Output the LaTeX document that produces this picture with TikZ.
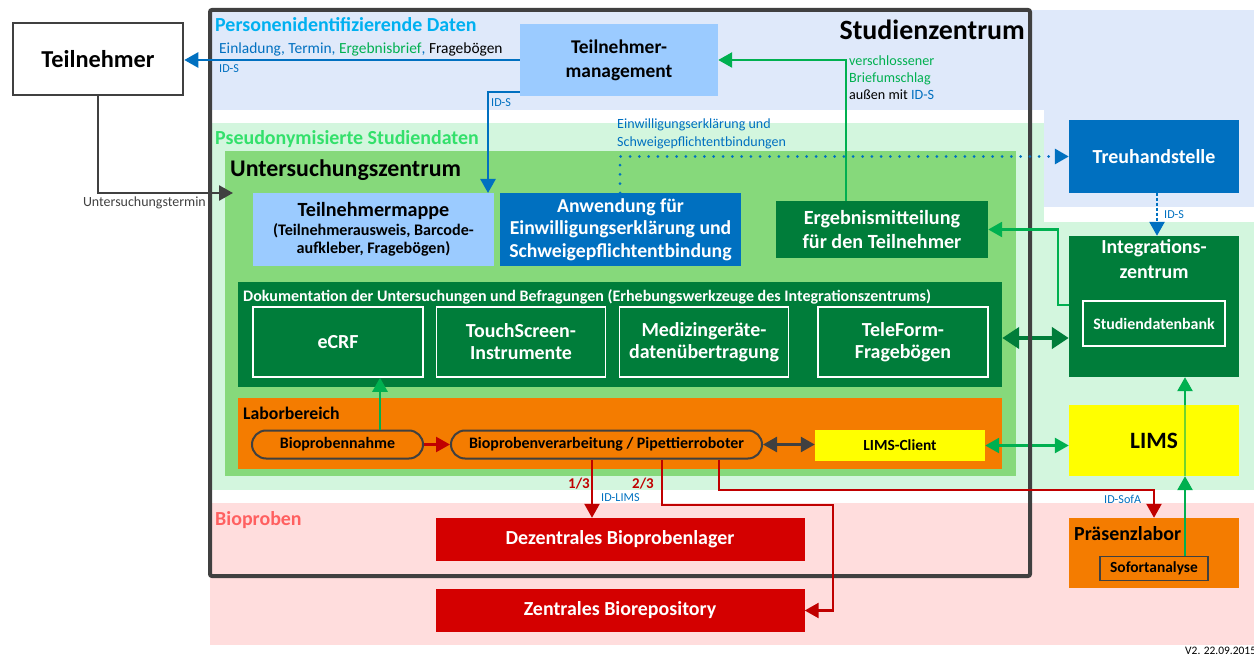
\documentclass[tikz,border=0pt]{standalone}
\usepackage{fontspec}
\setmainfont{Carlito}
\usetikzlibrary{arrows.meta,calc}
\definecolor{bandblue}{HTML}{DFE9FA}
\definecolor{bandgreen}{HTML}{D3F6DE}
\definecolor{bandpink}{HTML}{FFDDDD}
\definecolor{uzgreen}{HTML}{86D97B}
\definecolor{dkgreen}{HTML}{007D3A}
\definecolor{lngreen}{HTML}{00B050}
\definecolor{boxblue}{HTML}{0070C0}
\definecolor{ltblue}{HTML}{9BCBFF}
\definecolor{orng}{HTML}{F47C00}
\definecolor{boxred}{HTML}{D40000}
\definecolor{lnred}{HTML}{C00000}
\definecolor{framegray}{HTML}{404040}
\definecolor{cyanlbl}{HTML}{00B0F0}
\definecolor{greenlbl}{HTML}{33E06B}
\definecolor{pinklbl}{HTML}{FF6060}
\definecolor{limsyellow}{HTML}{FFFF00}
\newcommand\setfs[2]{\fontsize{#1}{#2}\selectfont}
\begin{document}
\begin{tikzpicture}[x=1bp,y=-1bp,
  box/.style={rectangle, inner sep=0pt, align=center, font=\bfseries\setfs{20}{22}},
  wbox/.style={box, text=white},
  toolbox/.style={wbox, fill=dkgreen, draw=white, line width=1.5bp, minimum width=169bp, minimum height=70bp},
  pill/.style={box, fill=orng, draw=framegray, line width=2bp, rounded corners=14bp, minimum height=28bp, font=\bfseries\setfs{16}{18}},
  redbox/.style={wbox, fill=boxred, minimum width=369bp, minimum height=43bp},
  lbl/.style={inner sep=0pt, anchor=west, font=\setfs{14.2}{17}, align=left},
  idlbl/.style={inner sep=0pt, anchor=west, font=\setfs{12.2}{14}, text=boxblue},
  sect/.style={inner sep=0pt, anchor=west, font=\bfseries\setfs{20}{22}},
  tipA/.style={-{Triangle[length=14bp,width=15bp]}},
  tipB/.style={{Triangle[length=14bp,width=15bp]}-{Triangle[length=14bp,width=15bp]}},
  blueln/.style={draw=boxblue, line width=2.6bp},
  greenln/.style={draw=lngreen, line width=2.6bp},
  redln/.style={draw=lnred, line width=2.4bp},
  grayln/.style={draw=framegray, line width=2.6bp}]
\useasboundingbox (0,0) rectangle (1254,657);

% background bands
\fill[bandblue] (212,10) rectangle (1254,110);
\fill[bandblue] (1044,110) rectangle (1254,207);
\fill[bandgreen] (212,123) rectangle (1044,490);
\fill[bandgreen] (1030,222) rectangle (1254,490);
\fill[bandpink] (210,503) rectangle (1254,645);

% band titles
\node[sect, text=cyanlbl] (tpers) at (215,25) {Personenidentifizierende Daten};
\node[sect, text=greenlbl] (tpseu) at (215,139) {Pseudonymisierte Studiendaten};
\node[sect, text=pinklbl] (tbio) at (215,520) {Bioproben};

% participant
\node[box, fill=white, draw=framegray, line width=2.5bp, minimum width=170bp, minimum height=72bp, font=\bfseries\setfs{24.4}{28}] (teil) at (98,59) {Teilnehmer};

% study centre, top band
\node[box, fill=ltblue, minimum width=198bp, minimum height=72bp, font=\bfseries\setfs{19.5}{24}] (tm) at (619,60) {Teilnehmer-\\management};
\node[wbox, fill=boxblue, minimum width=170bp, minimum height=72bp] (treu) at (1154,156.5) {Treuhandstelle};

% examination centre
\node[fill=uzgreen, inner sep=0pt, minimum width=791bp, minimum height=325bp] (uz) at (620.5,313.5) {};
\node[sect, text=black, font=\bfseries\setfs{24}{26}] (tuz) at (230,170) {Untersuchungszentrum};

\node[box, fill=ltblue, minimum width=241bp, minimum height=72bp, font=\bfseries\setfs{16.2}{18.5}] (mappe) at (373.5,229.5)
  {\setfs{20.2}{22}Teilnehmermappe\\(Teilnehmerausweis, Barcode-\\aufkleber, Fragebögen)};
\node[wbox, fill=boxblue, minimum width=241bp, minimum height=72bp, font=\bfseries\setfs{19.8}{22.5}] (anw) at (620.5,229.5)
  {Anwendung für\\Einwilligungserklärung und\\Schweigepflichtentbindung};
\node[wbox, fill=dkgreen, minimum width=212bp, minimum height=57bp, font=\bfseries\setfs{20.2}{24}] (erg) at (882,229.5)
  {Ergebnismitteilung\\für den Teilnehmer};

% documentation tools
\node[fill=dkgreen, inner sep=0pt, minimum width=764bp, minimum height=105bp] (doku) at (620,334.5) {};
\node[inner sep=0pt, anchor=west, text=white, font=\bfseries\setfs{16.1}{18}] (tdoku) at (243,297)
  {Dokumentation der Untersuchungen und Befragungen (Erhebungswerkzeuge des Integrationszentrums)};
\node[toolbox, minimum width=170bp] (ecrf) at (338,342) {eCRF};
\node[toolbox] (touch) at (521,342) {TouchScreen-\\Instrumente};
\node[toolbox] (med) at (704,342) {Medizingeräte-\\datenübertragung};
\node[toolbox, minimum width=170bp] (tele) at (903,342) {TeleForm-\\Fragebögen};

% laboratory
\node[fill=orng, inner sep=0pt, minimum width=764bp, minimum height=71bp] (labor) at (620,433.5) {};
\node[inner sep=0pt, anchor=west, font=\bfseries\setfs{17.8}{20}] (tlabor) at (243,413) {Laborbereich};
\node[pill, minimum width=171bp] (bpn) at (337.5,444.5) {Bioprobennahme};
\node[pill, minimum width=311bp] (bpv) at (606.5,444.5) {Bioprobenverarbeitung / Pipettierroboter};
\node[box, fill=limsyellow, minimum width=170bp, minimum height=31bp, font=\bfseries\setfs{15.5}{17}] (lc) at (900,445.5) {LIMS-Client};

% integration centre
\node[fill=dkgreen, inner sep=0pt, minimum width=170bp, minimum height=141bp] (integ) at (1154,306.5) {};
\node[wbox, anchor=north, font=\bfseries\setfs{20}{25}] (tinteg) at (1154,239) {Integrations-\\zentrum};
\node[wbox, draw=white, line width=1.5bp, minimum width=142bp, minimum height=45bp, font=\bfseries\setfs{16}{18}] (sdb) at (1154,323.5) {Studiendatenbank};
\node[box, fill=limsyellow, minimum width=170bp, minimum height=71bp, font=\bfseries\setfs{23.5}{26}] (lims) at (1154,440.5) {LIMS};

% biosamples
\node[redbox] (dez) at (620,539.5) {Dezentrales Bioprobenlager};
\node[redbox] (zen) at (620,610.5) {Zentrales Biorepository};
\node[fill=orng, inner sep=0pt, minimum width=170bp, minimum height=70bp] (praes) at (1154,553) {};
\node[inner sep=0pt, anchor=west, font=\bfseries\setfs{20}{22}] (tpraes) at (1074,534) {Präsenzlabor};
\node[box, fill=orng, draw=framegray, line width=1.8bp, minimum width=108bp, minimum height=24bp, font=\bfseries\setfs{15.5}{18}] (sof) at (1154,568.5) {Sofortanalyse};

% connectors crossing the study centre border
\draw[draw=dkgreen, line width=4.5bp, {Triangle[length=17bp,width=21bp]}-{Triangle[length=17bp,width=21bp]}]
  (doku.east |- 0,338) -- (integ.west |- 0,338);
\draw[greenln, tipB] (lc.east) -- (lc.east -| lims.west);

% study centre frame
\draw[framegray, line width=4bp, rounded corners=2bp] (210,10) rectangle (1030,576);
\node[inner sep=0pt, anchor=east, font=\bfseries\setfs{28}{30}] (tsz) at (1025,30) {Studienzentrum};

% participant management flows
\draw[blueln, tipA] (tm.west) -- (tm.west -| teil.east);
\node[lbl, font=\setfs{15.5}{17}] (tinv) at (219,49)
  {\textcolor{boxblue}{Einladung, Termin, }\textcolor{lngreen}{Ergebnisbrief}\textcolor{boxblue}{, }Fragebögen};
\node[idlbl] (tids1) at (219,69) {ID-S};
\coordinate (mapin) at (488,193);
\draw[blueln, tipA] ([yshift=4bp]tm.south west) -| (mapin);
\node[idlbl] (tids2) at (491,103) {ID-S};

\coordinate (ergup) at (846,201);
\draw[greenln, tipA] (ergup) |- (tm.east);
\node[lbl] (tbrief) at (849,78)
  {\textcolor{lngreen}{verschlossener}\\\textcolor{lngreen}{Briefumschlag}\\außen mit \textcolor{boxblue}{ID-S}};

\coordinate (uzin) at (233,193);
\draw[grayln, tipA] (teil.south) |- (uzin);
\node[inner sep=0pt, anchor=east, text=framegray, font=\setfs{14}{16}] (tterm) at (206,203) {Untersuchungstermin};

% consent and trust centre
\coordinate (anwtop) at (620,193);
\draw[draw=boxblue, line width=3bp, line cap=round, dash pattern=on 0bp off 9.3bp,
  -{Triangle[length=14bp,width=15bp]}] (anwtop) |- (treu.west);
\node[lbl, anchor=north west, text=boxblue, font=\setfs{14.1}{18}] (tconsent) at (617,119)
  {Einwilligungserklärung und\\Schweigepflichtentbindungen};
\draw[draw=boxblue, line width=2.6bp, dash pattern=on 3bp off 2bp, tipA]
  ([xshift=3bp]treu.south) -- ([xshift=3bp]integ.north);
\node[idlbl] (tids3) at (1164,215) {ID-S};

% results back to the examination centre
\coordinate (ergbend) at (1058,229.5);
\draw[greenln, tipA] (integ.west |- 0,305) -| (ergbend) -- (erg.east);

% laboratory flows
\draw[greenln, tipA] ([xshift=42.5bp]bpn.north) -- ([xshift=42bp]ecrf.south);
\draw[redln, tipA] (bpn.east) -- (bpv.west);
\draw[grayln, tipB] (bpv.east) -- (bpv.east -| lc.west);

\coordinate (xa) at (592,0);
\coordinate (xb) at (662,0);
\coordinate (xc) at (719,0);
\coordinate (zbend) at (833,505);
\coordinate (pbend) at (1154,490);
\draw[redln, tipA] (bpv.south -| xa) -- (dez.north -| xa);
\draw[redln, tipA] (bpv.south -| xb) |- (zbend) |- (zen.east);
\draw[redln, tipA] (bpv.south -| xc) |- (pbend) -- (praes.north);
\node[inner sep=0pt, text=lnred, font=\bfseries\setfs{15}{17}] (t13) at (579,484) {1/3};
\node[inner sep=0pt, text=lnred, font=\bfseries\setfs{15}{17}] (t23) at (643,484) {2/3};
\node[idlbl] (tidl) at (601,498) {ID-LIMS};
\node[idlbl] (tidsofa) at (1104,499) {ID-SofA};

% rapid analysis results to LIMS and integration centre
\draw[greenln, tipA] ([xshift=31bp]sof.north) -- ([xshift=31bp]lims.south);
\draw[greenln, tipA] ([xshift=31bp]lims.south) -- ([xshift=31bp]integ.south);
\draw[draw=lngreen!55!limsyellow, line width=2.6bp] ([xshift=31bp]lims.south) -- ([xshift=31bp]lims.north);

% version
\node[inner sep=0pt, anchor=west, font=\setfs{11.5}{13}] (tver) at (1185,651) {V2. 22.09.2015};
\end{tikzpicture}
\end{document}
